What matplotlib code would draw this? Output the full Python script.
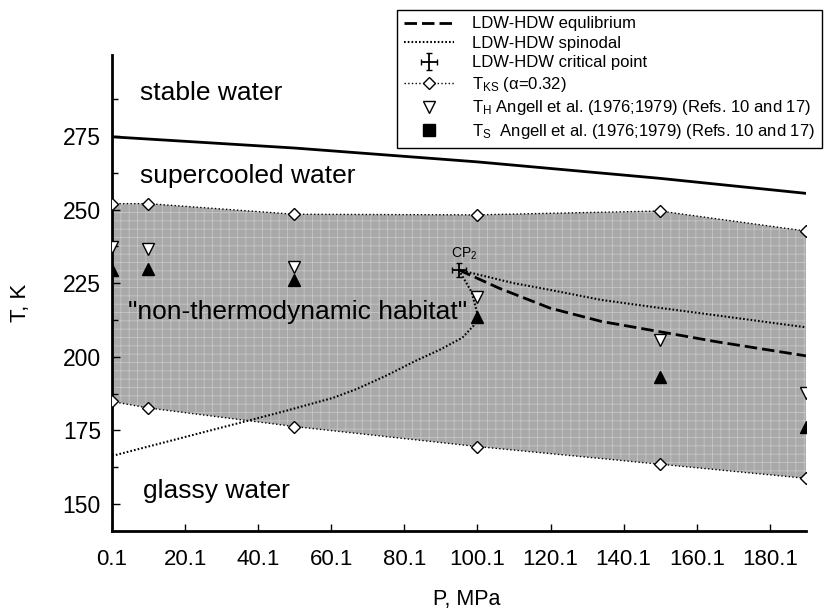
import matplotlib
matplotlib.use("Agg")
import matplotlib.pyplot as plt
from matplotlib.lines import Line2D

plt.rcParams['font.family'] = ['Liberation Sans', 'DejaVu Sans']
plt.rcParams['mathtext.default'] = 'regular'
plt.rcParams['hatch.linewidth'] = 0.6

# pressures (MPa) where the points were taken
p_pts = [0.1, 10, 50, 100, 150, 190]
tks_upper = [252.0, 252.0, 248.4, 248.2, 249.5, 242.7]   # T_KS (alpha=0.32), upper
tks_lower = [184.8, 182.6, 176.3, 169.5, 163.5, 158.7]   # T_KS, lower
t_h = [237.2, 236.6, 230.6, 220.2, 205.7, 187.6]         # T_H Angell et al.
t_s = [229.5, 229.7, 226.1, 213.6, 193.2, 176.1]         # T_S Angell et al.

# melting line (stable / supercooled)
p_melt = [0.1, 50, 100, 150, 190]
t_melt = [274.7, 270.9, 266.2, 260.6, 255.5]

# LDW-HDW equilibrium
p_eq = [95, 106, 120, 134, 150, 166, 190]
t_eq = [229.5, 223.3, 216.5, 212.0, 208.5, 205.0, 200.3]

# LDW-HDW spinodal, upper branch
p_sp_up = [95, 110, 120, 134, 147.5, 161, 190]
t_sp_up = [229.5, 225.0, 222.7, 219.3, 217.0, 214.8, 210.0]

# LDW-HDW spinodal, lower branch
p_sp_lo = [95, 98.5, 100, 99, 96, 90, 83, 75, 67, 60.5, 47, 38, 24, 0.1]
t_sp_lo = [229.5, 222.0, 215.0, 210.5, 206.5, 202.5, 198.5, 193.5, 189.0, 186.0,
           181.4, 178.5, 174.0, 166.3]

# critical point CP2
p_cp = [95]
t_cp = [229.5]

xticks = [0.1, 20.1, 40.1, 60.1, 80.1, 100.1, 120.1, 140.1, 160.1, 180.1]
yticks = [150, 175, 200, 225, 250, 275]

fig = plt.figure(figsize=(8.34, 6.11), dpi=100)
ax = fig.add_axes([0.1343, 0.1309, 0.8321, 0.7791])

# non-thermodynamic habitat region
ax.fill_between(p_pts, tks_lower, tks_upper, facecolor='#a9a9a9',
                edgecolor='#c6c6c6', hatch='++', linewidth=0, zorder=1)

ax.plot(p_melt, t_melt, color='black', lw=2, zorder=3)
ax.plot(p_eq, t_eq, color='black', lw=2, linestyle=(0, (4.5, 1.8)), zorder=3,
        label='LDW-HDW equlibrium')
ax.plot(p_sp_up, t_sp_up, color='black', lw=1.5, linestyle=(0, (0.8, 1.0)), zorder=3,
        label='LDW-HDW spinodal')
ax.plot(p_sp_lo, t_sp_lo, color='black', lw=1.5, linestyle=(0, (0.8, 1.0)), zorder=3)
ax.errorbar(p_cp, t_cp, xerr=2, yerr=2.5, fmt='none', ecolor='black', elinewidth=1.3,
            capsize=2.5, zorder=5, label='LDW-HDW critical point')

ax.plot(p_pts, tks_upper, color='black', lw=1, linestyle=':', marker='D', ms=6,
        mfc='white', mec='black', mew=1, zorder=4, label=r'T$_{KS}$ ($\alpha$=0.32)')
ax.plot(p_pts, tks_lower, color='black', lw=1, linestyle=':', marker='D', ms=6,
        mfc='white', mec='black', mew=1, zorder=4)
ax.plot(p_pts, t_h, linestyle='none', marker='v', ms=8.5, mfc='white', mec='black',
        mew=1, zorder=4, label=r'T$_H$ Angell et al. (1976;1979) (Refs. 10 and 17)')
ax.plot(p_pts, t_s, linestyle='none', marker='^', ms=8, mfc='black', mec='black',
        zorder=4)

ax.text(96.5, 232.3, 'CP$_2$', ha='center', va='bottom', fontsize=10, zorder=6)

ax.text(7.8, 289.6, 'stable water', fontsize=19, va='center', ha='left')
ax.text(7.8, 261.4, 'supercooled water', fontsize=19, va='center', ha='left')
ax.text(4.5, 215.2, '"non-thermodynamic habitat"', fontsize=19, va='center', ha='left',
        zorder=6)
ax.text(8.6, 154.4, 'glassy water', fontsize=19, va='center', ha='left')

ax.set_xlim(0.1, 190)
ax.set_ylim(140.8, 302.5)
ax.set_xticks(xticks)
ax.set_xticklabels([str(v) for v in xticks])
ax.set_yticks(yticks)
ax.set_yticks([162.5, 187.5, 212.5, 237.5, 262.5, 287.5], minor=True)
ax.tick_params(axis='x', direction='in', length=5, width=1, labelsize=16, pad=13)
ax.tick_params(axis='y', which='major', direction='in', length=6, width=1,
               labelsize=16.5, pad=8)
ax.tick_params(axis='y', which='minor', direction='in', length=4, width=1)

for side in ['top', 'right']:
    ax.spines[side].set_visible(False)
for side in ['left', 'bottom']:
    ax.spines[side].set_linewidth(2)

ax.set_xlabel('P, MPa', fontsize=15.5)
ax.xaxis.set_label_coords(0.511, -0.122)
ax.set_ylabel('T, K', fontsize=16)
ax.yaxis.set_label_coords(-0.117, 0.48)

# legend (T_S entry is drawn with a square, as in the original)
handles, labels = ax.get_legend_handles_labels()
handles.append(Line2D([], [], linestyle='none', marker='s', ms=8, mfc='black', mec='black'))
labels.append('T$_S$  Angell et al. (1976;1979) (Refs. 10 and 17)')
order = ['LDW-HDW equlibrium', 'LDW-HDW spinodal', 'LDW-HDW critical point',
         r'T$_{KS}$ ($\alpha$=0.32)', r'T$_H$ Angell et al. (1976;1979) (Refs. 10 and 17)',
         'T$_S$  Angell et al. (1976;1979) (Refs. 10 and 17)']
hl = dict(zip(labels, handles))
leg = fig.legend([hl[k] for k in order], order, loc='upper right',
                 bbox_to_anchor=(0.9856, 0.984), fontsize=12, frameon=True,
                 fancybox=False, framealpha=1, edgecolor='black',
                 handlelength=3.0, handletextpad=1.1, labelspacing=0.27,
                 borderpad=0.4, borderaxespad=0)
leg.get_frame().set_linewidth(1)

plt.savefig('out.png', dpi=100)
